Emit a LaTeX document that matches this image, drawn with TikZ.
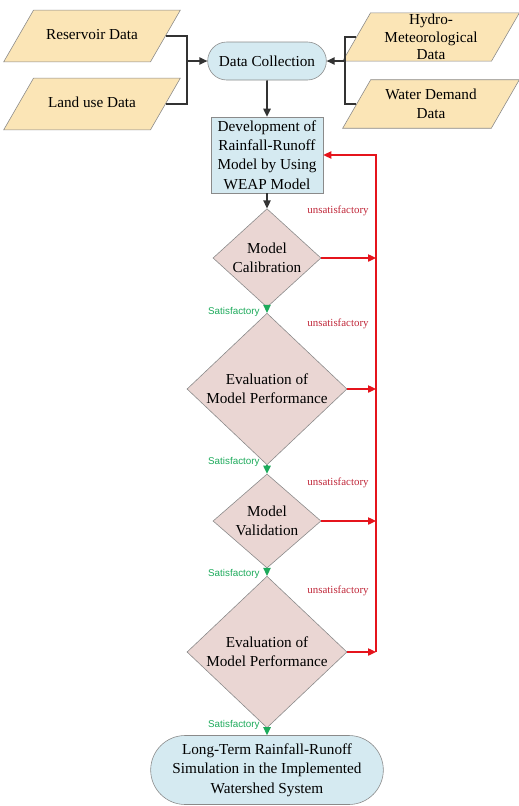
\documentclass[tikz,border=0pt]{standalone}
\usepackage{fontspec}
\setmainfont{Liberation Serif}
\newfontfamily\lsans{Liberation Sans}
\usetikzlibrary{shapes.geometric,shapes.misc,arrows.meta}
\definecolor{inbox}{HTML}{FBE5B6}
\definecolor{bluebox}{HTML}{D5EAF1}
\definecolor{pinkbox}{HTML}{EAD6D3}
\definecolor{edgegray}{HTML}{8A8A8A}
\definecolor{failred}{HTML}{E5141C}
\definecolor{faillab}{HTML}{C0283A}
\definecolor{passgreen}{HTML}{1DAA5B}
\begin{document}
\begin{tikzpicture}[x=0.03cm, y=-0.03cm,
  font=\fontsize{13}{16.5}\selectfont,
  datain/.style={trapezium, trapezium left angle=60, trapezium right angle=120,
    trapezium stretches body, draw=edgegray, fill=inbox, line width=0.5pt,
    minimum width=5.3cm, inner xsep=1pt, align=center},
  stadium/.style={rounded rectangle, draw=edgegray, fill=bluebox, line width=0.5pt,
    inner sep=1pt, align=center},
  procbox/.style={rectangle, draw=edgegray, fill=bluebox, line width=0.5pt,
    minimum width=3.36cm, minimum height=2.28cm, inner sep=1pt, align=center},
  check/.style={diamond, draw=edgegray, fill=pinkbox, line width=0.5pt,
    inner sep=0pt, align=center},
  flow/.style={line width=1.3pt, draw=black!80},
  arr/.style={flow, -{Triangle[length=2.4mm, width=2.2mm]}},
  pass/.style={line width=1.3pt, draw=passgreen, -{Triangle[length=2.4mm, width=2.2mm]}},
  fail/.style={line width=1.1pt, draw=failred},
  failarr/.style={fail, -{Triangle[length=2.4mm, width=2.2mm]}},
  okl/.style={font=\lsans\fontsize{8.4}{10}\selectfont, text=passgreen, inner sep=1pt, anchor=east},
  nol/.style={font=\fontsize{9.3}{11}\selectfont, text=faillab, inner sep=1pt, anchor=east}]
  \useasboundingbox (0,0) rectangle (518,806);
  % input data (inner ysep keeps every box 1.56cm high)
  \node[datain, text height=9pt, text depth=3pt, inner ysep=16.1pt] (res) at (92,36) {Reservoir Data};
  \node[datain, text height=9pt, text depth=3pt, inner ysep=16.1pt] (land) at (92,104) {Land use Data};
  \node[datain, font=\fontsize{13}{15}\selectfont, inner ysep=1pt] (hydro) at (431,37) {Hydro-\\Meteorological\\Data};
  \node[datain, inner ysep=7.9pt] (wdem) at (431,104) {Water Demand\\Data};
  \node[stadium, minimum width=3.63cm, minimum height=1.14cm] (dc) at (267,61) {Data Collection};
  % joints of the input lines
  \coordinate (lj) at (187,61);
  \coordinate (rj) at (345,61);
  \draw[flow] (res.east) -| (lj);
  \draw[flow] (land.east) -| (lj);
  \draw[arr] (lj) -- (dc);
  \draw[flow] (hydro.west) -| (rj);
  \draw[flow] (wdem.west) -| (rj);
  \draw[arr] (rj) -- (dc);
  % main chain
  \node[procbox] (dev) at (267,155) {Development of\\Rainfall-Runoff\\Model by Using\\WEAP Model};
  \node[check, minimum width=3.24cm, minimum height=2.76cm] (cal) at (267,258) {Model\\Calibration};
  \node[check, minimum width=4.8cm, minimum height=3.87cm] (ev1) at (267,389) {Evaluation of\\Model Performance};
  \node[check, minimum width=3.24cm, minimum height=2.82cm] (val) at (267,521) {Model\\Validation};
  \node[check, minimum width=4.8cm, minimum height=3.9cm] (ev2) at (267,652) {Evaluation of\\Model Performance};
  \node[stadium, minimum width=7.05cm, minimum height=2.07cm] (sim) at (267,770)
    {Long-Term Rainfall-Runoff\\Simulation in the Implemented\\Watershed System};
  \draw[arr] (dc) -- (dev);
  \draw[arr] (dev) -- (cal);
  \draw[pass] (cal) -- (ev1);
  \draw[pass] (ev1) -- (val);
  \draw[pass] (val) -- (ev2);
  \draw[pass] (ev2) -- (sim);
  \node[okl] (ok1) at (261,312) {Satisfactory};
  \node[okl] (ok2) at (261,462) {Satisfactory};
  \node[okl] (ok3) at (261,574) {Satisfactory};
  \node[okl] (ok4) at (261,725) {Satisfactory};
  % feedback loop
  \coordinate (fbtop) at (376,155);
  \coordinate (fbbot) at (376,652);
  \draw[failarr] (fbbot) |- (dev.east);
  \draw[failarr] (cal.east) -- (cal.east -| fbtop);
  \draw[failarr] (ev1.east) -- (ev1.east -| fbtop);
  \draw[failarr] (val.east) -- (val.east -| fbtop);
  \draw[failarr] (ev2.east) -- (fbbot);
  \node[nol] (no1) at (370,211) {unsatisfactory};
  \node[nol] (no2) at (370,324) {unsatisfactory};
  \node[nol] (no3) at (370,483) {unsatisfactory};
  \node[nol] (no4) at (370,591) {unsatisfactory};
\end{tikzpicture}
\end{document}
